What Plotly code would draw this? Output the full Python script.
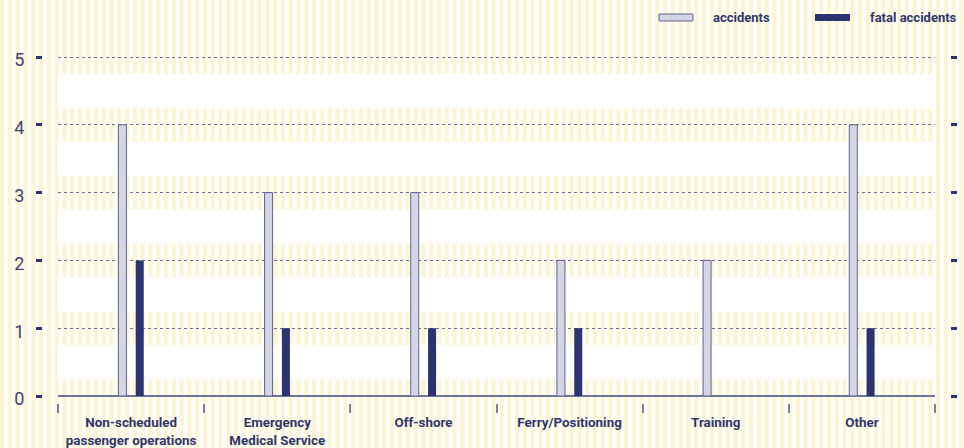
import plotly.graph_objects as go

# ---- data -------------------------------------------------------------
categories = [
    "Non-scheduled<br>passenger operations",
    "Emergency<br>Medical Service",
    "Off-shore",
    "Ferry/Positioning",
    "Training",
    "Other",
]
accidents = [4, 3, 3, 2, 2, 4]
fatal_accidents = [2, 1, 1, 1, 0, 1]
y_ticks = [0, 1, 2, 3, 4, 5]
y_top = 5.05  # a little headroom so the top grid line is drawn

# ---- styling ----------------------------------------------------------
NAVY = "#2b3370"
TEXT = "#2f3769"
LIGHT_FILL = "#d4d6e4"
LIGHT_EDGE = "#5d6493"
CREAM = "#fcf5d6"
FONT = "Roboto"

W, H = 964, 448
M_L, M_R, M_T, M_B = 42, 14, 50, 45
PW, PH = W - M_L - M_R, H - M_T - M_B

BASE_PX, UNIT_PX = 396, 67.8  # pixel row of y=0 and pixels per unit


def px_x(px):
    return (px - M_L) / PW


def px_y(py):
    return (H - M_B - py) / PH


fig = go.Figure()

fig.add_trace(go.Bar(
    name="accidents", x=categories, y=accidents,
    marker=dict(color=LIGHT_FILL, line=dict(color=LIGHT_EDGE, width=1)),
    hoverinfo="skip",
))
fig.add_trace(go.Bar(
    name="fatal accidents", x=categories, y=fatal_accidents,
    marker=dict(color=NAVY, line=dict(width=0)),
    hoverinfo="skip",
))
# carrier for the right-hand tick axis
fig.add_trace(go.Scatter(
    x=[categories[0]], y=[0], yaxis="y2", mode="markers",
    marker=dict(opacity=0), hoverinfo="skip", showlegend=False,
))

shapes = []

# vertical pinstripe background over the whole page
period, stripe_w = 7.8, 4.4
parts = []
x = 0.0
while x < W:
    x0, x1 = px_x(x), px_x(min(x + stripe_w, W))
    y0, y1 = px_y(H), px_y(0)
    parts.append(f"M{x0:.5f},{y0:.5f}H{x1:.5f}V{y1:.5f}H{x0:.5f}Z")
    x += period
shapes.append(dict(
    type="path", path="".join(parts), xref="paper", yref="paper",
    fillcolor=CREAM, line=dict(width=0), layer="below",
))

# plain white bands between the striped strips around each grid line
for k in y_ticks[:-1]:
    shapes.append(dict(
        type="rect", xref="x domain", yref="y", x0=0, x1=1,
        y0=k + 0.25, y1=k + 0.75,
        fillcolor="white", line=dict(width=0), layer="below",
    ))

# legend swatches
shapes.append(dict(
    type="rect", xref="paper", yref="paper",
    x0=px_x(659), x1=px_x(693), y0=px_y(21), y1=px_y(14),
    fillcolor=LIGHT_FILL, line=dict(color=LIGHT_EDGE, width=1),
))
shapes.append(dict(
    type="rect", xref="paper", yref="paper",
    x0=px_x(815), x1=px_x(850), y0=px_y(21), y1=px_y(14),
    fillcolor=NAVY, line=dict(width=0),
))

legend_font = dict(family=FONT, size=13, color=TEXT, weight=700)
annotations = [
    dict(text="accidents", xref="paper", yref="paper",
         x=px_x(711), y=px_y(17.5), xanchor="left", yanchor="middle",
         showarrow=False, font=legend_font),
    dict(text="fatal accidents", xref="paper", yref="paper",
         x=px_x(868), y=px_y(17.5), xanchor="left", yanchor="middle",
         showarrow=False, font=legend_font),
]

fig.update_layout(
    width=W, height=H,
    margin=dict(l=M_L, r=M_R, t=M_T, b=M_B, pad=0),
    paper_bgcolor="white",
    plot_bgcolor="rgba(0,0,0,0)",
    showlegend=False,
    barmode="group",
    bargap=0.763,
    bargroupgap=0.538,
    shapes=shapes,
    annotations=annotations,
    xaxis=dict(
        type="category",
        domain=[px_x(58), px_x(935)],
        anchor="free", position=0,
        range=[-0.5, len(categories) - 0.5],
        tickson="boundaries",
        ticks="outside", ticklen=9, tickwidth=1.5, tickcolor="#7a7fa3",
        showline=False, showgrid=False, zeroline=False,
        tickfont=dict(family=FONT, size=13.4, color=TEXT, weight=700),
        ticklabelstandoff=10,
        automargin=False,
    ),
    yaxis=dict(
        domain=[px_y(BASE_PX), px_y(BASE_PX - y_top * UNIT_PX)],
        anchor="free", position=0,
        range=[0, y_top],
        tickvals=y_ticks,
        ticks="outside", ticklen=6, tickwidth=3, tickcolor=NAVY,
        showline=False,
        showgrid=True, griddash="dot", gridcolor="#6b6f98", gridwidth=1,
        zeroline=True, zerolinecolor="#70749a", zerolinewidth=2,
        tickfont=dict(family=FONT, size=18, color="#3c4273"),
        ticklabelstandoff=8,
        ticklabelshift=3,
        automargin=False,
    ),
    yaxis2=dict(
        overlaying="y", side="right",
        anchor="free", position=1,
        range=[0, y_top],
        tickvals=y_ticks,
        ticks="outside", ticklen=6, tickwidth=3, tickcolor=NAVY,
        showticklabels=False, showgrid=False, zeroline=False, showline=False,
        automargin=False,
    ),
)

fig.write_html("out.html")
